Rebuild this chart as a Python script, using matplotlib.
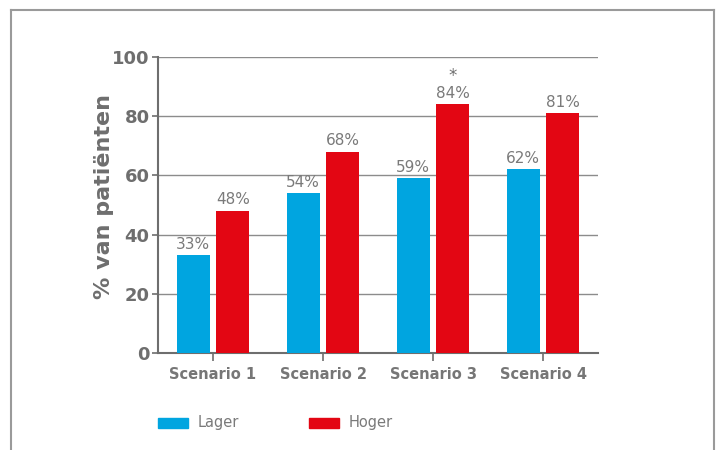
import matplotlib.pyplot as plt
from matplotlib.patches import Rectangle
import numpy as np

scenarios = ["Scenario 1", "Scenario 2", "Scenario 3", "Scenario 4"]
lager = [33, 54, 59, 62]
hoger = [48, 68, 84, 81]
series_names = ["Lager", "Hoger"]
colors = ["#00a5e0", "#e30613"]
grey = "#6e6e6e"

fig = plt.figure(figsize=(7.21, 4.5), dpi=100)

# outer frame (open at the bottom)
fig.add_artist(plt.Line2D([11 / 721, 11 / 721], [0, 1 - 10 / 450], color="#9a9a9a", lw=1.5))
fig.add_artist(plt.Line2D([11 / 721, 714 / 721], [1 - 10 / 450, 1 - 10 / 450], color="#9a9a9a", lw=1.5))
fig.add_artist(plt.Line2D([714 / 721, 714 / 721], [0, 1 - 10 / 450], color="#9a9a9a", lw=1.5))

ax = fig.add_axes([158 / 721, 1 - 353 / 450, 440 / 721, 296 / 450])

x = np.arange(len(scenarios))
w = 0.3
off = 0.18
b1 = ax.bar(x - off, lager, w, color=colors[0], zorder=3)
b2 = ax.bar(x + off, hoger, w, color=colors[1], zorder=3)

for bars, vals in [(b1, lager), (b2, hoger)]:
    for rect, v in zip(bars, vals):
        ax.text(rect.get_x() + rect.get_width() / 2, v + 1.2, f"{v}%",
                ha="center", va="bottom", fontsize=11, color="#7a7a7a")

# significance marker on scenario 3
ax.text(x[2] + off, hoger[2] + 6.5, "*", ha="center", va="bottom", fontsize=12, color=grey)

ax.set_xlim(-0.5, 3.5)
ax.set_ylim(0, 100)
ax.set_yticks([0, 20, 40, 60, 80, 100])
ax.set_xticks(x)
ax.set_xticklabels(scenarios, fontsize=10.5, fontweight="bold", color="#767676")
for lbl in ax.get_yticklabels():
    lbl.set_fontsize(13)
    lbl.set_fontweight("bold")
    lbl.set_color(grey)
ax.tick_params(axis="y", length=4, width=1.2, color=grey, pad=2)
ax.tick_params(axis="x", length=6, width=1.2, color=grey, pad=4)

ax.yaxis.grid(True, color="#8c8c8c", lw=1, zorder=0)
ax.set_axisbelow(True)
for s in ["top", "right"]:
    ax.spines[s].set_visible(False)
for s in ["left", "bottom"]:
    ax.spines[s].set_color(grey)
    ax.spines[s].set_linewidth(1.5)

ax.set_ylabel("% van patiënten", fontsize=16, fontweight="bold", color=grey)
ax.yaxis.set_label_coords(-0.1, 0.53)

# legend drawn by hand along the bottom
leg_x = [158, 309]
for name, c, lx in zip(series_names, colors, leg_x):
    fig.add_artist(Rectangle((lx / 721, 1 - 428 / 450), 30 / 721, 10 / 450,
                             color=c, transform=fig.transFigure))
    fig.text((lx + 40) / 721, 1 - 423 / 450, name, fontsize=10.5,
             color="#7a7a7a", va="center")

fig.savefig("out.png", dpi=100)
